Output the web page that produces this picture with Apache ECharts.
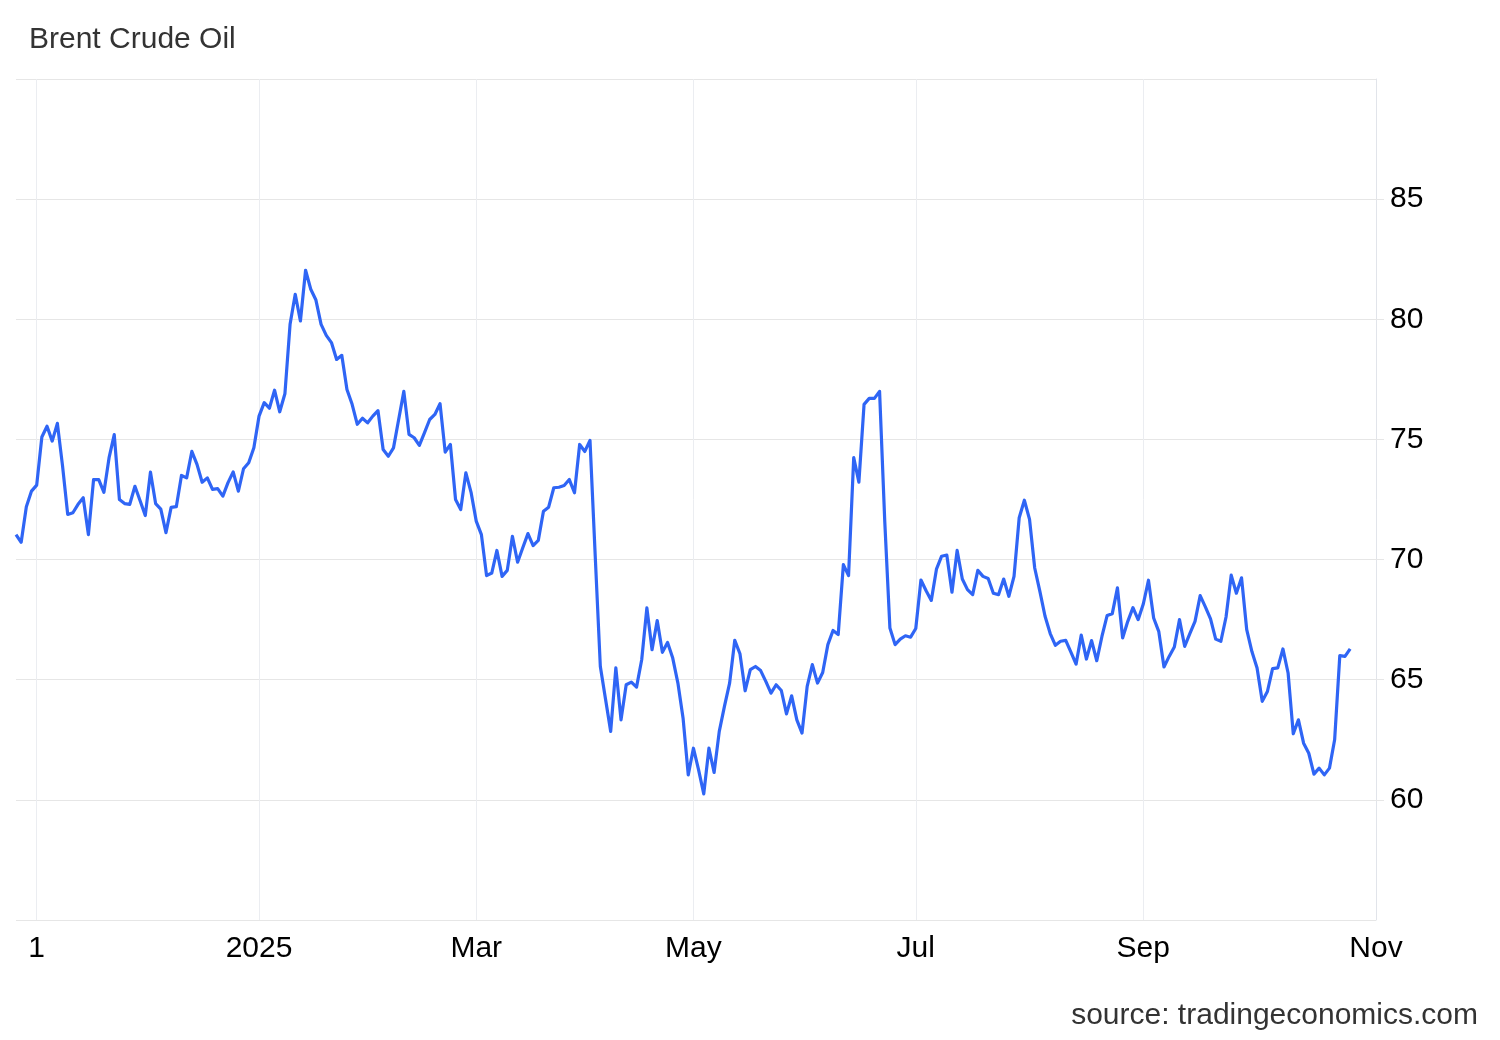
<!DOCTYPE html>
<html>
<head>
<meta charset="utf-8">
<script src="https://cdn.jsdelivr.net/npm/echarts@6/dist/echarts.min.js"></script>
<style>
html,body{margin:0;padding:0;background:#ffffff;}
#chart{width:1500px;height:1040px;}
</style>
</head>
<body>
<div id="chart"></div>
<script>
// ---- data ----
const chartTitle = 'Brent Crude Oil';
const sourceText = 'source: tradingeconomics.com';
const startDate = '2024-10-28';
const endDate = '2025-11-03';
const holidays = ['2025-01-01', '2025-04-18'];

// daily closes (USD/bbl), one per trading day from startDate
const prices = [
  71.04, 70.72, 72.2, 72.85, 73.1, 75.1, 75.55, 74.93, 75.67, 73.9,
  71.88, 71.95, 72.3, 72.57, 71.04, 73.33, 73.33, 72.8, 74.24, 75.2,
  72.5, 72.33, 72.3, 73.05, 72.45, 71.83, 73.64, 72.33, 72.1, 71.12,
  72.17, 72.2, 73.5, 73.4, 74.5, 73.96, 73.22, 73.4, 72.92, 72.95,
  72.64, 73.2, 73.65, 72.85, 73.78, 74.03, 74.65, 75.97, 76.53, 76.3,
  77.05, 76.15, 76.9, 79.79, 81.04, 79.93, 82.04, 81.25, 80.8, 79.79,
  79.33, 79.03, 78.33, 78.5, 77.08, 76.46, 75.63, 75.88, 75.69, 75.97,
  76.2, 74.58, 74.3, 74.65, 75.83, 77.0, 75.21, 75.07, 74.75, 75.28,
  75.83, 76.04, 76.49, 74.47, 74.79, 72.5, 72.08, 73.61, 72.8, 71.6,
  71.04, 69.33, 69.44, 70.38, 69.3, 69.55, 70.97, 69.89, 70.49, 71.08,
  70.58, 70.8, 72.01, 72.18, 72.99, 73.01, 73.08, 73.33, 72.78, 74.79,
  74.5, 74.96, 70.2, 65.55, 64.2, 62.85, 65.49, 63.33, 64.79, 64.9,
  64.69, 65.83, 67.99, 66.25, 67.46, 66.14, 66.55, 65.9, 64.86, 63.4,
  61.04, 62.15, 61.25, 60.25, 62.15, 61.14, 62.85, 63.89, 64.86, 66.64,
  66.08, 64.54, 65.42, 65.55, 65.38, 64.93, 64.44, 64.79, 64.55, 63.58,
  64.33, 63.33, 62.78, 64.72, 65.63, 64.86, 65.3, 66.46, 67.05, 66.88,
  69.79, 69.33, 74.24, 73.22, 76.46, 76.71, 76.71, 77.0, 71.6, 67.15,
  66.46, 66.69, 66.83, 66.77, 67.13, 69.15, 68.7, 68.3, 69.6, 70.14,
  70.19, 68.64, 70.38, 69.19, 68.75, 68.54, 69.55, 69.3, 69.21, 68.6,
  68.54, 69.19, 68.47, 69.3, 71.74, 72.47, 71.67, 69.65, 68.68, 67.64,
  66.92, 66.43, 66.6, 66.64, 66.15, 65.65, 66.86, 65.86, 66.63, 65.79,
  66.8, 67.67, 67.75, 68.82, 66.74, 67.43, 68.0, 67.5, 68.15, 69.14,
  67.57, 67.0, 65.53, 65.97, 66.36, 67.5, 66.39, 66.92, 67.43, 68.5,
  68.03, 67.53, 66.69, 66.6, 67.61, 69.35, 68.6, 69.24, 67.08, 66.17,
  65.49, 64.1, 64.51, 65.46, 65.49, 66.28, 65.28, 62.75, 63.33, 62.36,
  61.94, 61.07, 61.32, 61.04, 61.32, 62.5, 66.0, 65.97, 66.28
];

const tickMonths = ['2024-11', '2025-01', '2025-03', '2025-05', '2025-07', '2025-09', '2025-11'];
const tickLabels = ['1', '2025', 'Mar', 'May', 'Jul', 'Sep', 'Nov'];

const yMin = 55, yMax = 90, yStep = 5;

// ---- build trading-day categories ----
function buildDates() {
  const out = [];
  const d = new Date(startDate + 'T00:00:00Z');
  const end = new Date(endDate + 'T00:00:00Z');
  while (d <= end) {
    const wd = d.getUTCDay();
    const s = d.toISOString().slice(0, 10);
    if (wd !== 0 && wd !== 6 && holidays.indexOf(s) < 0) out.push(s);
    d.setUTCDate(d.getUTCDate() + 1);
  }
  return out;
}
const dates = buildDates();
const tickIndex = {};
dates.forEach(function (s, i) {
  const m = s.slice(0, 7);
  if (tickMonths.indexOf(m) >= 0 && !(m in tickIndex)) tickIndex[m] = i;
});
const tickSet = new Set(Object.values(tickIndex));
const isTick = function (i) { return tickSet.has(i); };

const FONT = '"Liberation Sans", Arial, Helvetica, sans-serif';

const chart = echarts.init(document.getElementById('chart'), null, {renderer: 'canvas'});
chart.setOption({
  animation: false,
  backgroundColor: '#ffffff',
  graphic: [
    {
      type: 'text', x: 29, y: 40,
      style: {text: chartTitle, fill: '#333333', font: '30px ' + FONT, textVerticalAlign: 'middle', textAlign: 'left'}
    },
    {
      type: 'text', x: 1478, y: 1016,
      style: {text: sourceText, fill: '#333333', font: '30px ' + FONT, textVerticalAlign: 'middle', textAlign: 'right'}
    }
  ],
  grid: {left: 16, right: 124, top: 79, bottom: 120, containLabel: false},
  xAxis: {
    type: 'category',
    data: dates,
    boundaryGap: false,
    axisLine: {show: false},
    axisTick: {show: false},
    splitLine: {
      show: true,
      interval: function (i) { return isTick(i); },
      lineStyle: {color: '#ebedf1', width: 1}
    },
    axisLabel: {
      interval: function (i) { return isTick(i); },
      formatter: function (v) { return tickLabels[tickMonths.indexOf(v.slice(0, 7))]; },
      fontSize: 30, fontFamily: FONT, color: '#000000', margin: 14, lineHeight: 30
    }
  },
  yAxis: {
    type: 'value',
    position: 'right',
    min: yMin, max: yMax, interval: yStep,
    axisLine: {show: true, lineStyle: {color: '#e1e4ea', width: 1}},
    axisTick: {show: true, length: 8, lineStyle: {color: '#e6e6e6'}},
    splitLine: {show: true, lineStyle: {color: '#e6e6e6', width: 1}},
    axisLabel: {
      showMinLabel: false, showMaxLabel: false,
      fontSize: 30, fontFamily: FONT, color: '#000000', margin: 14
    }
  },
  series: [{
    type: 'line',
    data: prices,
    showSymbol: false,
    symbol: 'none',
    smooth: false,
    lineStyle: {color: '#2f65f5', width: 3.2, join: 'round'},
    itemStyle: {color: '#2f65f5'},
    z: 5
  }]
});
</script>
</body>
</html>
